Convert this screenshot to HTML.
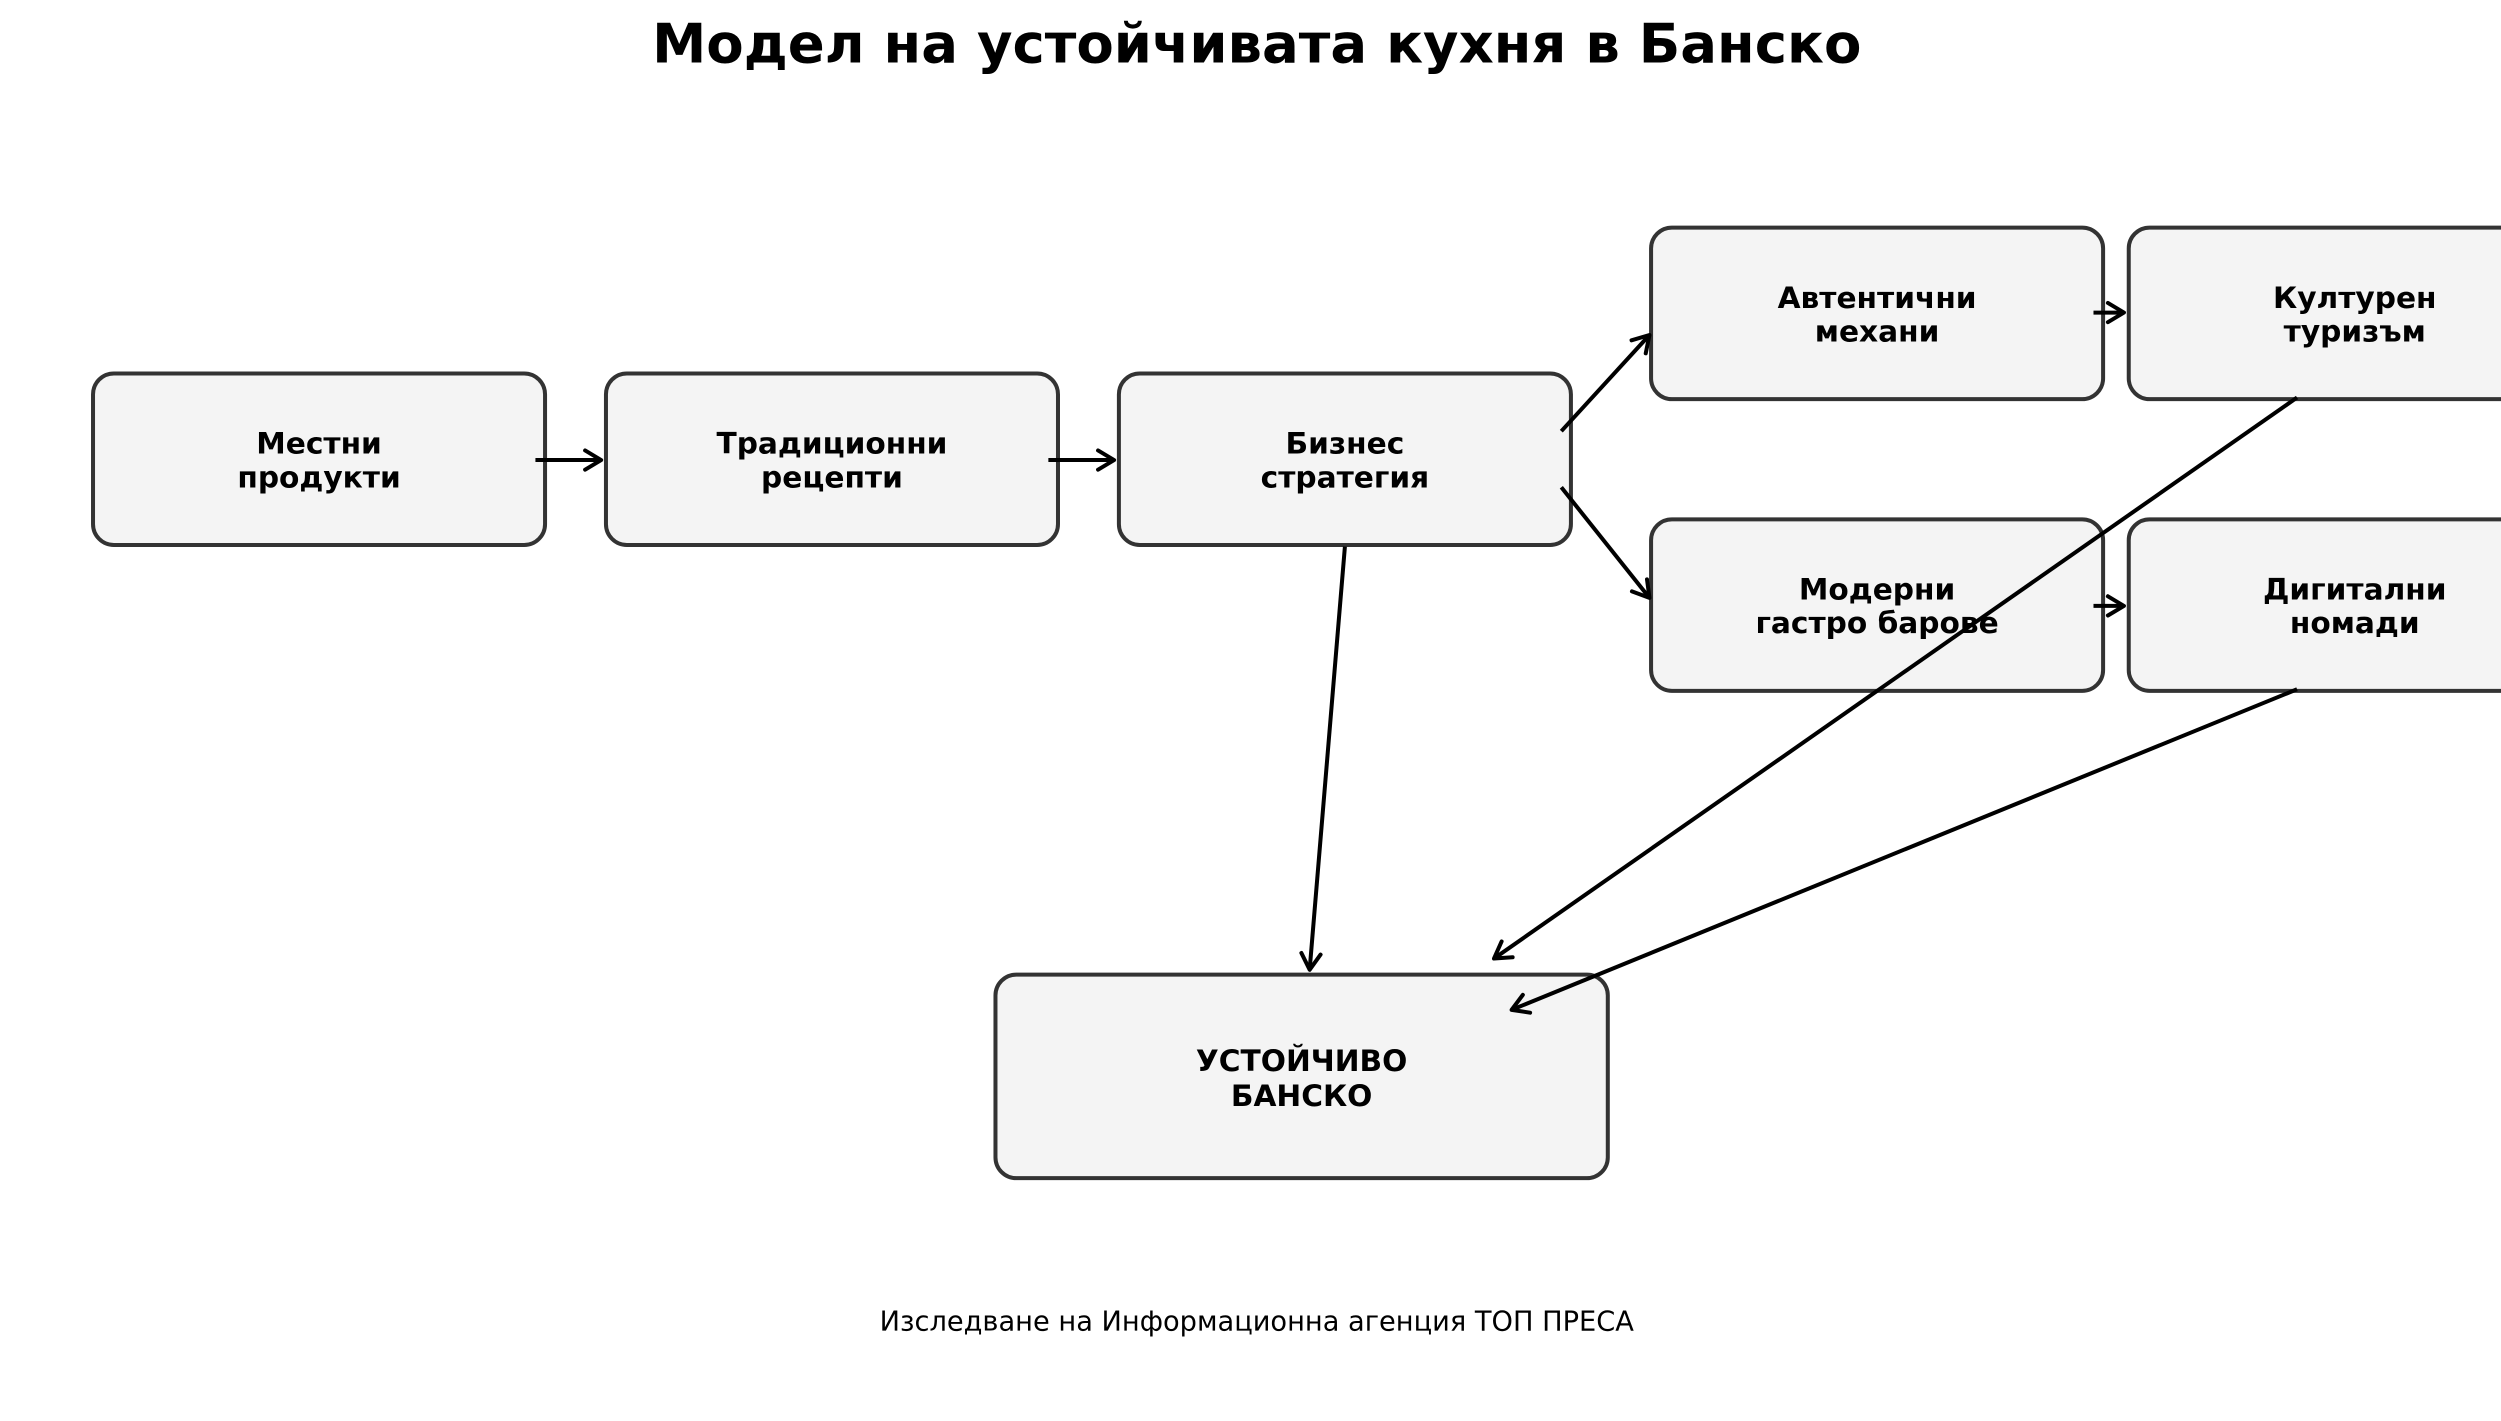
<!DOCTYPE html>
<html><head><meta charset="utf-8"><style>
html,body{margin:0;padding:0;background:#fff;overflow:hidden}
svg{display:block}
text{font-family:"DejaVu Sans","Liberation Sans",sans-serif;fill:#000}
</style></head><body>
<svg width="2501" height="1421" viewBox="0 0 1560.2 886.5" xmlns="http://www.w3.org/2000/svg">
<defs>
<marker id="a" markerUnits="userSpaceOnUse" markerWidth="30" markerHeight="30" refX="0" refY="0" viewBox="-15 -15 30 30" orient="auto">
<path d="M-10,-6 L0,0 L-10,6" fill="none" stroke="#000" stroke-width="2.5" stroke-linecap="round" stroke-linejoin="round"/>
</marker>
</defs>
<rect width="1560.2" height="886.5" fill="#fff"/>
<text x="784" y="39" font-size="34" font-weight="bold" text-anchor="middle">Модел на устойчивата кухня в Банско</text>
<g fill="#f4f4f4" stroke="#333" stroke-width="2.5">
<rect x="58" y="233" width="282" height="107" rx="13"/>
<rect x="378" y="233" width="282" height="107" rx="13"/>
<rect x="698" y="233" width="282" height="107" rx="13"/>
<rect x="1030" y="142" width="282" height="107" rx="13"/>
<rect x="1328" y="142" width="282" height="107" rx="13"/>
<rect x="1030" y="324" width="282" height="107" rx="13"/>
<rect x="1328" y="324" width="282" height="107" rx="13"/>
<rect x="621" y="608" width="382" height="127" rx="13"/>
</g>
<g font-size="18.5" font-weight="bold" text-anchor="middle">
<text x="199" y="283">Местни</text><text x="199" y="304">продукти</text>
<text x="519" y="283">Традиционни</text><text x="519" y="304">рецепти</text>
<text x="839" y="283">Бизнес</text><text x="839" y="304">стратегия</text>
<text x="1171" y="192">Автентични</text><text x="1171" y="213">механи</text>
<text x="1469" y="192">Културен</text><text x="1469" y="213">туризъм</text>
<text x="1171" y="374">Модерни</text><text x="1171" y="395">гастро барове</text>
<text x="1469" y="374">Дигитални</text><text x="1469" y="395">номади</text>
<text x="812" y="668">УСТОЙЧИВО</text><text x="812" y="690">БАНСКО</text>
</g>
<g stroke="#000" stroke-width="2.5" fill="none" marker-end="url(#a)">
<line x1="334" y1="287" x2="375" y2="287"/>
<line x1="654" y1="287" x2="695" y2="287"/>
<line x1="974" y1="269" x2="1029" y2="209"/>
<line x1="974" y1="304" x2="1029" y2="373"/>
<line x1="1306" y1="195" x2="1325" y2="195"/>
<line x1="1306" y1="378" x2="1325" y2="378"/>
<line x1="839" y1="341" x2="817" y2="605"/>
<line x1="1433" y1="248" x2="932" y2="598"/>
<line x1="1433" y1="430" x2="943" y2="630"/>
</g>
<text x="784" y="830" font-size="17" text-anchor="middle">Изследване на Информационна агенция ТОП ПРЕСА</text>
</svg>
</body></html>
